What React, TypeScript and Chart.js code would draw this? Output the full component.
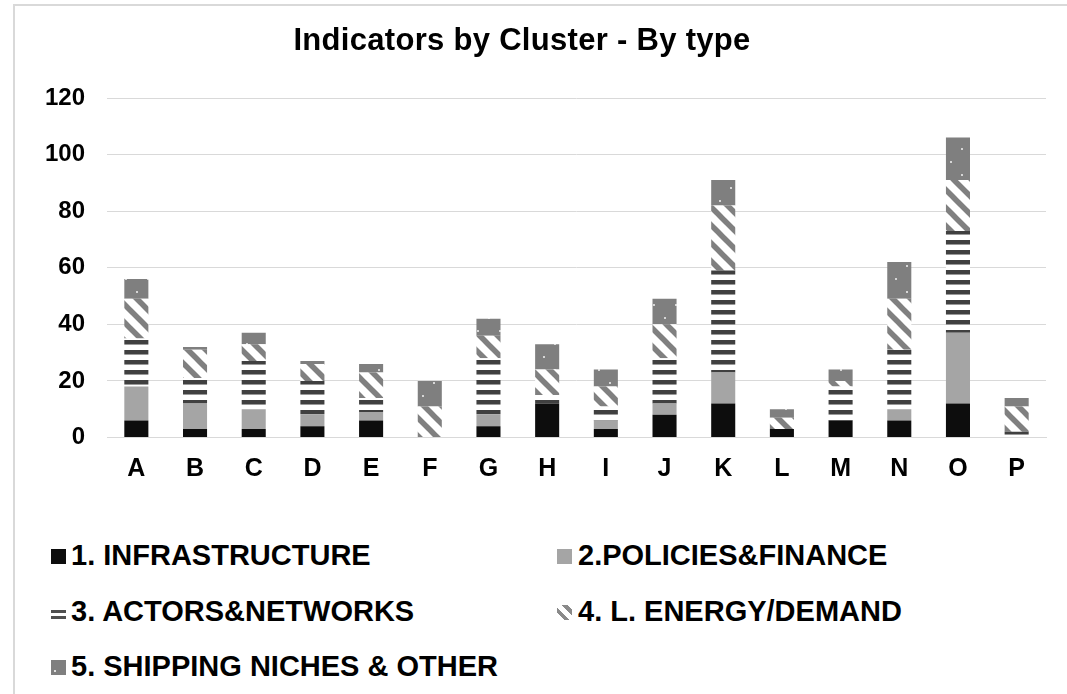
import React, { useEffect, useRef } from "react";
import { Chart, registerables } from "chart.js";

Chart.register(...registerables);

const categories = ["A", "B", "C", "D", "E", "F", "G", "H", "I", "J", "K", "L", "M", "N", "O", "P"];
const infrastructure = [6, 3, 3, 4, 6, 0, 4, 12, 3, 8, 12, 3, 6, 6, 12, 0];
const policiesFinance = [12, 9, 7, 4, 3, 0, 4, 0, 3, 4, 11, 0, 0, 4, 25, 0];
const actorsNetworks = [17, 9, 17, 12, 5, 0, 20, 3, 5, 16, 36, 0, 12, 21, 36, 2];
const energyDemand = [14, 10, 6, 6, 9, 11, 8, 9, 7, 12, 23, 4, 2, 18, 18, 9];
const shippingOther = [7, 1, 4, 1, 3, 9, 6, 9, 6, 9, 9, 3, 4, 13, 15, 3];
const seriesNames = [
  "1. INFRASTRUCTURE",
  "2.POLICIES&FINANCE",
  "3. ACTORS&NETWORKS",
  "4. L. ENERGY/DEMAND",
  "5. SHIPPING NICHES & OTHER",
];
const chartTitle = "Indicators by Cluster - By type";
const yMin = 0;
const yMax = 120;
const yStep = 20;

const FONT = '"Liberation Sans", Arial, Helvetica, sans-serif';

function makePattern(w: number, h: number, draw: (g: CanvasRenderingContext2D, w: number, h: number) => void) {
  const c = document.createElement("canvas");
  c.width = w;
  c.height = h;
  const g = c.getContext("2d")!;
  draw(g, w, h);
  return g.createPattern(c, "repeat")!;
}

function hStripes() {
  return makePattern(10, 10, (g, w) => {
    g.fillStyle = "#ffffff";
    g.fillRect(0, 0, w, 10);
    g.fillStyle = "#404040";
    g.fillRect(0, 0, w, 4);
    g.fillStyle = "#9a9a9a";
    g.fillRect(0, 4, w, 1);
  });
}

function diagStripes() {
  const s = 18;
  return makePattern(s, s, (g) => {
    g.fillStyle = "#ffffff";
    g.fillRect(0, 0, s, s);
    g.strokeStyle = "#808080";
    g.lineWidth = 5.5;
    for (const x0 of [-s, 0, s]) {
      g.beginPath();
      g.moveTo(x0 - 2, -2);
      g.lineTo(x0 + s + 2, s + 2);
      g.stroke();
    }
  });
}

function dotted() {
  return makePattern(22, 26, (g, w, h) => {
    g.fillStyle = "#7f7f7f";
    g.fillRect(0, 0, w, h);
    g.fillStyle = "#d6d6d6";
    g.fillRect(4, 5, 2, 2);
    g.fillRect(15, 18, 2, 2);
  });
}

const swatchStyles: React.CSSProperties[] = [
  { background: "#0d0d0d" },
  { background: "#a5a5a5" },
  {
    background:
      "repeating-linear-gradient(to bottom, #ffffff 0px, #ffffff 3px, #505050 3px, #505050 6px)",
    height: 12,
    marginTop: 2,
  },
  { background: "repeating-linear-gradient(45deg, #ffffff 0px, #ffffff 5px, #8a8a8a 5px, #8a8a8a 9px)" },
  { background: "radial-gradient(circle at 4px 11px, #e0e0e0 0px, #e0e0e0 1px, transparent 1.5px), #7f7f7f" },
];

export default function App() {
  const ref = useRef<HTMLCanvasElement>(null);

  useEffect(() => {
    if (!ref.current) return;
    Chart.defaults.font.family = FONT;
    const fills = ["#0d0d0d", "#a5a5a5", hStripes(), diagStripes(), dotted()];
    const series = [infrastructure, policiesFinance, actorsNetworks, energyDemand, shippingOther];
    const chart = new Chart(ref.current, {
      type: "bar",
      data: {
        labels: categories,
        datasets: series.map((d, i) => ({
          label: seriesNames[i],
          data: d,
          backgroundColor: fills[i] as any,
          borderWidth: 0,
          categoryPercentage: 1,
          barPercentage: 0.41,
        })),
      },
      options: {
        responsive: false,
        animation: false,
        layout: { padding: { left: 0, right: 21, top: 98, bottom: 0 } },
        plugins: {
          legend: { display: false },
          title: { display: false },
          tooltip: { enabled: false },
        },
        scales: {
          x: {
            stacked: true,
            grid: { display: false, drawTicks: false },
            border: { display: true, color: "#d9d9d9", width: 1 },
            ticks: {
              color: "#000000",
              padding: 17,
              font: { size: 25, weight: "bold", family: FONT },
            },
            afterFit: (scale: any) => {
              scale.height = 62.5;
            },
          },
          y: {
            stacked: true,
            min: yMin,
            max: yMax,
            grid: { color: "#d9d9d9", lineWidth: 1, drawTicks: false },
            border: { display: false },
            ticks: {
              stepSize: yStep,
              color: "#000000",
              padding: 22,
              font: { size: 24, weight: "bold", family: FONT },
            },
            afterFit: (scale: any) => {
              scale.width = 107;
            },
          },
        },
      },
    });
    return () => chart.destroy();
  }, []);

  const rowTops = [541, 597, 652];
  const colSwatch = [51, 557];
  const colText = [71, 578];

  return (
    <div
      style={{
        position: "absolute",
        left: 0,
        top: 0,
        width: 1067,
        height: 694,
        background: "#ffffff",
        overflow: "hidden",
        fontFamily: FONT,
      }}
    >
      <div
        style={{
          position: "absolute",
          left: 13,
          top: 4,
          width: 1100,
          height: 800,
          borderLeft: "2px solid #d9d9d9",
          borderTop: "2px solid #d9d9d9",
        }}
      />
      <canvas
        ref={ref}
        width={1067}
        height={500}
        style={{ position: "absolute", left: 0, top: 0, width: 1067, height: 500 }}
      />
      <div
        style={{
          position: "absolute",
          left: 0,
          top: 23.7,
          width: 1044,
          textAlign: "center",
          fontSize: 31,
          lineHeight: "31px",
          fontWeight: "bold",
          letterSpacing: "0.3px",
          color: "#000",
          whiteSpace: "nowrap",
        }}
      >
        {chartTitle}
      </div>
      {seriesNames.map((name, i) => {
        const row = Math.floor(i / 2);
        const col = i % 2;
        const top = rowTops[row];
        return (
          <React.Fragment key={name}>
            <div
              style={{
                position: "absolute",
                left: colSwatch[col],
                top: top + 8,
                width: 15,
                height: 15,
                ...swatchStyles[i],
              }}
            />
            <div
              style={{
                position: "absolute",
                left: colText[col],
                top: top,
                fontSize: 29,
                lineHeight: "29px",
                fontWeight: "bold",
                color: "#000",
                whiteSpace: "nowrap",
              }}
            >
              {name}
            </div>
          </React.Fragment>
        );
      })}
    </div>
  );
}
